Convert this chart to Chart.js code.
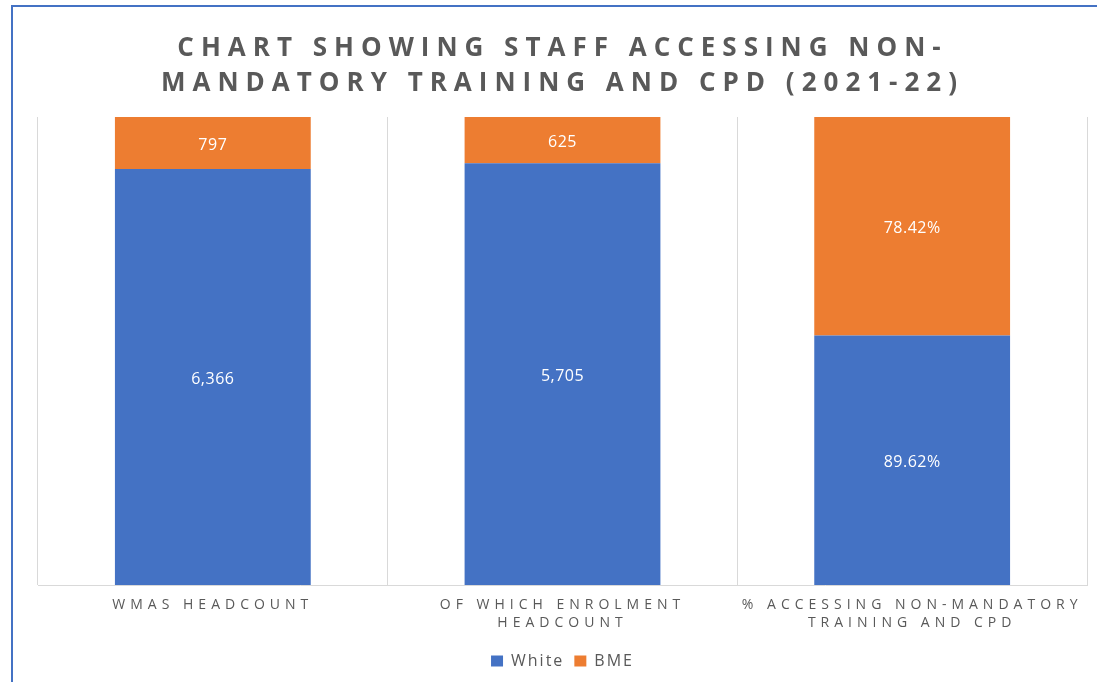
<!DOCTYPE html>
<html>
<head>
<meta charset="utf-8">
<script src="https://cdn.jsdelivr.net/npm/chart.js@4"></script>
<style>
  html, body { margin: 0; padding: 0; background: #fff; }
  #wrap { position: relative; width: 1097px; height: 682px; overflow: hidden; }
  #frame { position: absolute; left: 11px; top: 5px; width: 1200px; height: 800px;
           border-left: 2px solid #4472C4; border-top: 2px solid #4472C4; pointer-events: none; }
</style>
</head>
<body>
<div id="wrap">
  <div id="frame"></div>
  <canvas id="staffChart"></canvas>
</div>
<script>
var categories = ['WMAS HEADCOUNT', ['OF WHICH ENROLMENT', 'HEADCOUNT'], ['% ACCESSING NON-MANDATORY', 'TRAINING AND CPD']];
var whiteValues = [6366, 5705, 89.62];
var bmeValues = [797, 625, 78.42];
var isPercent = [false, false, true];

// each column is drawn as its share of the column total (100% stacked)
function share(values, other) {
    return values.map(function (v, i) { return v / (v + other[i]) * 100; });
}

function formatValue(v, i) {
    if (isPercent[i]) return v.toFixed(2) + '%';
    return v.toLocaleString('en-GB');
}

var rawValues = [whiteValues, bmeValues];

// white value labels in the middle of every segment
var segmentLabels = {
    id: 'segmentLabels',
    afterDatasetsDraw: function (chart) {
        var ctx = chart.ctx;
        ctx.save();
        ctx.font = '16px "Open Sans"';
        ctx.letterSpacing = '0.5px';
        ctx.fillStyle = '#ffffff';
        ctx.textAlign = 'center';
        ctx.textBaseline = 'middle';
        chart.data.datasets.forEach(function (ds, di) {
            chart.getDatasetMeta(di).data.forEach(function (bar, i) {
                var p = bar.getProps(['x', 'y', 'base'], true);
                ctx.fillText(formatValue(rawValues[di][i], i), p.x, (p.y + p.base) / 2 + 2);
            });
        });
        ctx.restore();
    }
};

// wider tracking for the title, category labels and legend
var letterSpacing = {
    id: 'letterSpacing',
    beforeLayout: function (chart) {
        function wrap(obj, key, spacing) {
            if (!obj || obj['_spaced_' + key]) return;
            var orig = obj[key];
            obj[key] = function () {
                var ctx = chart.ctx;
                var prev = ctx.letterSpacing;
                ctx.letterSpacing = spacing;
                var r = orig.apply(this, arguments);
                ctx.letterSpacing = prev;
                return r;
            };
            obj['_spaced_' + key] = true;
        }
        wrap(chart.titleBlock, 'draw', '7px');
        wrap(chart.scales.x, 'drawLabels', '5px');
        wrap(chart.legend, 'fit', '2px');
        wrap(chart.legend, 'draw', '2px');
    }
};

var ctx = document.getElementById('staffChart').getContext('2d');
var staffChart = new Chart(ctx, {
    type: 'bar',
    data: {
        labels: categories,
        datasets: [{
            label: 'White',
            data: share(whiteValues, bmeValues),
            backgroundColor: '#4472C4',
            borderWidth: 0
        }, {
            label: 'BME',
            data: share(bmeValues, whiteValues),
            backgroundColor: '#ED7D31',
            borderWidth: 0
        }]
    },
    plugins: [segmentLabels, letterSpacing],
    options: {
        responsive: true,
        maintainAspectRatio: false,
        animation: false,
        layout: { padding: { left: 38, right: 10, top: 0, bottom: 3 } },
        datasets: { bar: { categoryPercentage: 1, barPercentage: 0.56 } },
        scales: {
            x: {
                stacked: true,
                grid: { color: '#D9D9D9', drawTicks: false, offset: true },
                border: { color: '#D9D9D9' },
                ticks: {
                    color: '#595959',
                    font: { family: 'Open Sans', size: 14, lineHeight: '18px' },
                    padding: 11,
                    maxRotation: 0,
                    autoSkip: false
                }
            },
            y: {
                stacked: true,
                display: false,
                min: 0,
                max: 100
            }
        },
        plugins: {
            title: {
                display: true,
                text: ['CHART SHOWING STAFF ACCESSING NON-', 'MANDATORY TRAINING AND CPD (2021-22)'],
                color: '#595959',
                font: { family: 'Open Sans', size: 26, weight: 'bold', lineHeight: '35px' },
                padding: { top: 31, bottom: 16 }
            },
            legend: {
                position: 'bottom',
                labels: {
                    color: '#595959',
                    font: { family: 'Open Sans', size: 16 },
                    boxWidth: 12,
                    boxHeight: 11,
                    padding: 10
                }
            },
            tooltip: { enabled: false }
        }
    }
});
</script>
</body>
</html>
